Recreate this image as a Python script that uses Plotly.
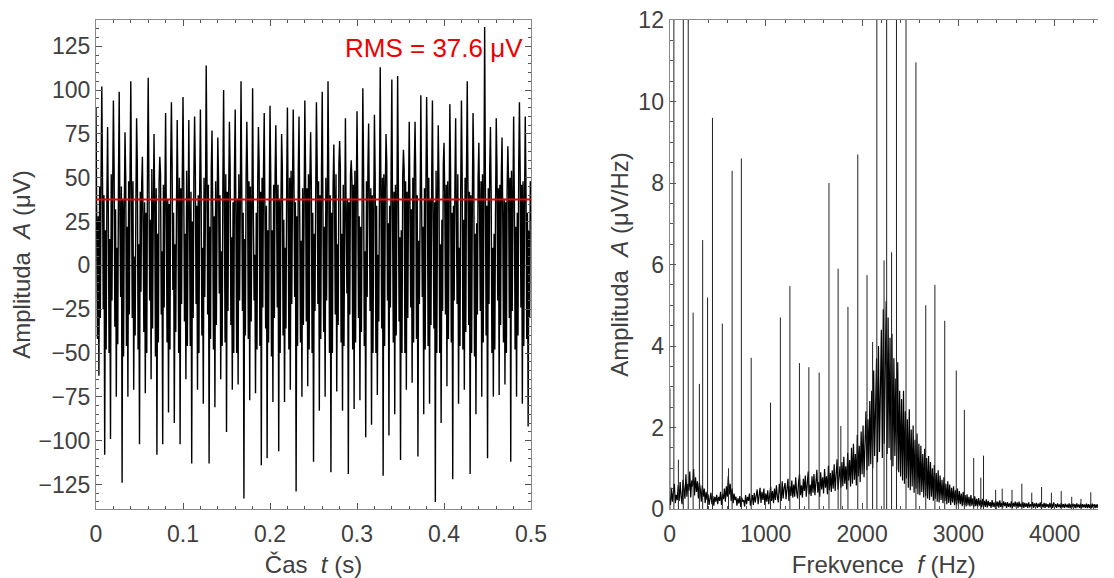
import numpy as np
import plotly.graph_objects as go

# ---------------- data: time signal (uV), 8 samples per beat ----------------
sample_rate_hz = 1200
signal_uV = [
    90, 35, -42, 28, -63, 45, -30, 52,
    102, 48, -25, 40, -108, 20, -48, 38,
    79, 30, -50, 15, -99, 52, -20, 44,
    94, 55, -35, 32, -75, 10, -45, 50,
    99, 25, -18, 45, -124, 38, -52, 30,
    76, 50, -46, 22, -75, 48, -28, 56,
    105, 40, -30, 48, -71, 5, -40, 35,
    84, 58, -48, 12, -102, 42, -15, 46,
    62, 22, -38, 36, -73, 30, -50, 54,
    107, 46, -20, 26, -65, 55, -36, 28,
    75, 34, -52, 44, -108, 18, -44, 48,
    62, 52, -28, 8, -102, 46, -24, 40,
    87, 28, -44, 38, -84, 35, -48, 58,
    93, 56, -14, 30, -90, 12, -38, 32,
    83, 38, -50, 50, -102, 44, -22, 50,
    96, 48, -32, 18, -65, 54, -46, 26,
    83, 26, -46, 42, -113, 25, -30, 52,
    85, 54, -22, 34, -71, 40, -50, 44,
    89, 42, -40, 10, -79, 50, -18, 36,
    114, 58, -28, 46, -113, 22, -42, 55,
    77, 30, -48, 28, -81, 48, -34, 30,
    73, 50, -16, 40, -65, 8, -46, 48,
    100, 36, -44, 52, -95, 42, -26, 42,
    82, 55, -34, 16, -71, 36, -50, 56,
    89, 24, -50, 38, -68, 52, -20, 34,
    105, 46, -26, 30, -133, 15, -40, 50,
    82, 52, -42, 48, -77, 45, -32, 28,
    101, 34, -20, 6, -73, 30, -48, 46,
    79, 58, -46, 42, -114, 50, -24, 54,
    87, 28, -36, 34, -110, 20, -44, 38,
    91, 50, -52, 20, -78, 46, -30, 52,
    80, 40, -24, 46, -106, 38, -50, 32,
    75, 56, -40, 26, -78, 10, -36, 48,
    90, 32, -48, 50, -71, 54, -22, 44,
    89, 48, -18, 36, -129, 28, -46, 56,
    85, 26, -44, 14, -75, 44, -34, 30,
    94, 54, -32, 44, -69, 52, -48, 50,
    76, 44, -50, 30, -112, 18, -26, 40,
    93, 58, -22, 48, -83, 40, -42, 54,
    99, 30, -38, 22, -75, 50, -20, 34,
    105, 50, -50, 40, -118, 30, -50, 46,
    69, 36, -28, 52, -72, 12, -34, 58,
    71, 55, -44, 18, -83, 46, -46, 28,
    84, 24, -16, 38, -119, 36, -28, 52,
    60, 48, -48, 46, -82, 54, -44, 42,
    88, 40, -30, 28, -77, 22, -38, 36,
    101, 56, -46, 8, -98, 48, -18, 56,
    81, 32, -26, 44, -91, 40, -50, 30,
    86, 52, -50, 34, -74, 6, -32, 48,
    113, 38, -36, 50, -120, 52, -46, 44,
    75, 58, -20, 24, -97, 34, -24, 54,
    106, 28, -44, 42, -85, 46, -40, 32,
    108, 46, -32, 16, -111, 20, -50, 50,
    66, 54, -50, 48, -71, 42, -30, 38,
    82, 34, -24, 32, -67, 50, -44, 56,
    82, 50, -42, 40, -109, 14, -22, 28,
    97, 42, -18, 22, -85, 44, -48, 46,
    96, 56, -46, 50, -79, 38, -34, 52,
    94, 26, -36, 36, -135, 54, -50, 36,
    80, 48, -50, 12, -90, 26, -26, 58,
    70, 38, -28, 46, -69, 48, -42, 30,
    92, 55, -44, 30, -122, 34, -20, 48,
    84, 30, -22, 52, -79, 10, -46, 44,
    94, 52, -48, 26, -71, 50, -38, 54,
    105, 44, -34, 42, -119, 40, -50, 34,
    87, 58, -52, 18, -85, 24, -28, 50,
    70, 32, -26, 48, -75, 52, -44, 40,
    136, 50, -40, 34, -110, 44, -22, 56,
    79, 40, -50, 10, -75, 18, -48, 30,
    84, 56, -20, 44, -74, 46, -34, 52,
    73, 26, -44, 38, -68, 36, -50, 44,
    68, 48, -30, 50, -112, 54, -26, 36,
    85, 36, -48, 22, -75, 30, -40, 58,
    93, 54, -24, 46, -79, 48, -46, 32,
    85, 44, -42, 30, -92, 20, -30, 48,
    25,
]
rms_uV = 37.6

# ---------------- data: spectrum (uV/Hz), one value every 10 Hz ----------------
freq_step_hz = 10
spectrum_floor = [
    0.28, 0.10, 0.52, 0.18, 0.40, 0.62, 0.14, 0.35, 0.22, 0.58,
    0.20, 0.66, 0.31, 0.12, 0.72, 0.40, 0.25, 0.85, 0.30, 0.62,
    0.45, 0.92, 0.28, 0.70, 0.55, 0.98, 0.33, 0.78, 0.42, 0.68,
    0.26, 0.64, 0.48, 0.18, 0.58, 0.30, 0.50, 0.15, 0.42, 0.22,
    0.36, 0.10, 0.28, 0.40, 0.12, 0.32, 0.08, 0.30, 0.18, 0.35,
    0.12, 0.30, 0.20, 0.42, 0.10, 0.36, 0.24, 0.50, 0.18, 0.56,
    0.30, 0.80, 0.36, 0.62, 0.20, 0.50, 0.14, 0.38, 0.22, 0.30,
    0.08, 0.26, 0.14, 0.32, 0.05, 0.28, 0.18, 0.22, 0.06, 0.34,
    0.12, 0.30, 0.20, 0.38, 0.08, 0.26, 0.34, 0.10, 0.40, 0.16,
    0.28, 0.48, 0.12, 0.36, 0.52, 0.15, 0.42, 0.22, 0.50, 0.10,
    0.38, 0.18, 0.46, 0.12, 0.30, 0.55, 0.20, 0.44, 0.14, 0.50,
    0.22, 0.58, 0.30, 0.16, 0.62, 0.35, 0.20, 0.68, 0.26, 0.52,
    0.64, 0.24, 0.45, 0.74, 0.20, 0.56, 0.32, 0.70, 0.28, 0.60,
    0.30, 0.78, 0.42, 0.26, 0.66, 0.86, 0.34, 0.58, 0.28, 0.74,
    0.44, 0.82, 0.30, 0.68, 0.92, 0.36, 0.60, 0.32, 0.80, 0.40,
    0.86, 0.34, 0.72, 0.96, 0.40, 0.66, 0.30, 0.90, 0.48, 0.78,
    0.38, 0.98, 0.52, 0.80, 0.36, 1.06, 0.46, 0.88, 0.42, 0.95,
    0.50, 1.10, 0.44, 0.92, 1.22, 0.48, 0.86, 1.05, 0.52, 1.15,
    0.56, 1.28, 0.62, 1.05, 0.48, 1.38, 0.70, 1.20, 0.55, 1.50,
    0.62, 1.60, 0.72, 1.35, 0.58, 1.82, 0.80, 1.55, 0.66, 1.90,
    0.85, 2.05, 0.78, 1.80, 2.40, 0.95, 2.20, 1.05, 2.65, 1.10,
    2.90, 1.00, 3.40, 1.30, 2.80, 3.70, 1.15, 4.00, 1.40, 3.60,
    4.40, 1.25, 4.90, 1.60, 3.90, 5.10, 1.35, 4.70, 1.50, 4.20,
    1.20, 4.30, 1.05, 3.70, 1.30, 3.20, 0.95, 3.60, 0.90, 2.90,
    0.80, 2.70, 0.70, 2.90, 0.62, 2.40, 0.75, 2.20, 0.52, 2.45,
    0.46, 1.95, 0.55, 2.05, 0.40, 1.70, 0.50, 1.85, 0.36, 1.60,
    0.34, 1.55, 0.42, 1.35, 0.28, 1.48, 0.32, 1.25, 0.26, 1.30,
    0.22, 1.15, 0.30, 1.00, 0.20, 1.08, 0.25, 0.88, 0.18, 0.95,
    0.16, 0.82, 0.22, 0.72, 0.14, 0.78, 0.20, 0.62, 0.12, 0.68,
    0.15, 0.60, 0.10, 0.52, 0.16, 0.56, 0.09, 0.46, 0.12, 0.50,
    0.08, 0.44, 0.12, 0.38, 0.07, 0.42, 0.10, 0.34, 0.06, 0.36,
    0.09, 0.30, 0.06, 0.34, 0.08, 0.26, 0.05, 0.31, 0.07, 0.25,
    0.05, 0.27, 0.08, 0.22, 0.04, 0.25, 0.06, 0.20, 0.05, 0.24,
    0.04, 0.20, 0.07, 0.17, 0.03, 0.22, 0.05, 0.16, 0.04, 0.19,
    0.06, 0.18, 0.03, 0.21, 0.05, 0.15, 0.04, 0.19, 0.07, 0.16,
    0.03, 0.17, 0.05, 0.14, 0.04, 0.19, 0.03, 0.15, 0.06, 0.18,
    0.04, 0.16, 0.03, 0.18, 0.05, 0.13, 0.04, 0.17, 0.03, 0.15,
    0.05, 0.14, 0.03, 0.16, 0.04, 0.12, 0.06, 0.17, 0.03, 0.14,
    0.04, 0.15, 0.03, 0.13, 0.05, 0.16, 0.03, 0.12, 0.04, 0.15,
    0.03, 0.14, 0.05, 0.12, 0.03, 0.15, 0.04, 0.13, 0.03, 0.16,
    0.04, 0.12, 0.03, 0.14, 0.05, 0.11, 0.03, 0.15, 0.04, 0.12,
    0.03, 0.13, 0.04, 0.11, 0.03, 0.14, 0.02, 0.12, 0.04, 0.13,
    0.03, 0.12, 0.02, 0.14, 0.04, 0.11, 0.03, 0.13, 0.02, 0.12,
    0.04, 0.11, 0.03, 0.13, 0.02, 0.12, 0.03, 0.11, 0.02, 0.13,
    0.03, 0.12, 0.02, 0.11, 0.03, 0.12,
]
peak_freq_hz = [4, 45, 92, 143, 194, 245, 310, 344, 395, 446, 548, 613, 650,
                746, 848, 1049, 1151, 1250, 1349, 1447, 1554, 1656, 1751, 1779,
                1853, 1955, 2051, 2109, 2153, 2228, 2255, 2306, 2357, 2456,
                2559, 2661, 2756, 2858, 2978, 3062, 3159, 3233, 3261, 3387,
                3455, 3557, 3659, 3762, 3864, 3966, 4068, 4177, 4273, 4375]
peak_amp = [2.96, 30.0, 1.21, 20.0, 16.0, 4.82, 3.07, 6.6, 5.19, 9.6, 4.55, 1.0, 8.3,
            8.6, 3.71, 2.61, 4.70, 5.47, 3.58, 3.48, 3.35, 8.0, 5.9, 2.04,
            4.96, 8.70, 5.74, 4.1, 25.0, 6.1, 40.0, 6.3, 20.0, 14.0,
            10.96, 5.0, 5.5, 4.62, 3.40, 2.43, 1.25, 0.77, 1.31, 0.47,
            0.5, 0.47, 0.62, 0.4, 0.54, 0.4, 0.44, 0.3, 0.25, 0.41]

# ---------------- build figure ----------------
t = np.arange(len(signal_uV)) / sample_rate_hz
f = np.arange(len(spectrum_floor)) * freq_step_hz

peak_x, peak_y = [], []
for fx, ay in zip(peak_freq_hz, peak_amp):
    peak_x += [fx, fx, None]
    peak_y += [0, ay, None]

FONT = "Liberation Sans, Arial, Helvetica, sans-serif"
TXT = "#404040"
AX = "#8a8a8a"
TICKC = "#555555"

fig = go.Figure()
fig.add_trace(go.Scatter(x=t, y=signal_uV, mode="lines",
                         line=dict(color="black", width=1.4),
                         xaxis="x", yaxis="y", showlegend=False, hoverinfo="skip"))
fig.add_trace(go.Scatter(x=[0, 0.5], y=[rms_uV, rms_uV], mode="lines",
                         line=dict(color="#ee0000", width=2),
                         xaxis="x", yaxis="y", showlegend=False))
fig.add_trace(go.Scatter(x=f, y=spectrum_floor, mode="lines",
                         line=dict(color="black", width=1.2),
                         xaxis="x2", yaxis="y2", showlegend=False, hoverinfo="skip"))
fig.add_trace(go.Scatter(x=peak_x, y=peak_y, mode="lines",
                         line=dict(color="#222222", width=1),
                         xaxis="x2", yaxis="y2", showlegend=False, hoverinfo="skip"))

W, H = 1114, 578
ml, mt, mb = 96, 20, 69
pw = W - ml
left_dom = [0, (538 - ml) / pw]
right_dom = [(678.7 - ml) / pw, 1]

common = dict(showgrid=False, showline=True, linecolor=AX, linewidth=1,
              ticks="inside", tickcolor=TICKC, ticklen=6, tickwidth=1,
              tickfont=dict(family=FONT, size=23, color=TXT),
              title_font=dict(family=FONT, size=24, color=TXT))

fig.update_layout(
    width=W, height=H, margin=dict(l=ml, r=0, t=mt, b=mb),
    paper_bgcolor="white", plot_bgcolor="white",
    font=dict(family=FONT, color=TXT),
    xaxis=dict(domain=left_dom, anchor="y", range=[0, 0.5], dtick=0.1,
               mirror="ticks", zeroline=False, ticklabelstandoff=4,
               minor=dict(ticks="inside", dtick=0.02, ticklen=3, tickcolor=TICKC),
               title=dict(text="Čas\u00a0 <i>t</i> (s)", standoff=11), **common),
    yaxis=dict(domain=[0, 1], anchor="x", range=[-139, 140], tickvals=list(range(-125, 126, 25)),
               mirror="ticks", zeroline=True, zerolinecolor="#222222", zerolinewidth=1,
               minor=dict(ticks="inside", dtick=5, ticklen=3, tickcolor=TICKC),
               title=dict(text="Amplituda\u00a0 <i>A</i> (μV)", standoff=1), **common),
    xaxis2=dict(domain=right_dom, anchor="y2", range=[0, 4450], dtick=1000,
                mirror="ticks", zeroline=False, ticklabelstandoff=4,
                minor=dict(ticks="inside", dtick=200, ticklen=3, tickcolor=TICKC),
                title=dict(text="Frekvence\u00a0 <i>f</i> (Hz)", standoff=11), **common),
    yaxis2=dict(domain=[0, 1], anchor="x2", range=[0, 12], dtick=2,
                mirror=False, zeroline=False,
                minor=dict(ticks="inside", dtick=0.5, ticklen=3, tickcolor=TICKC),
                title=dict(text="Amplituda\u00a0 <i>A</i> (μV/Hz)", standoff=2), **common),
    annotations=[dict(x=0.493, y=124, xref="x", yref="y", text="RMS = 37.6 μV",
                      showarrow=False, xanchor="right", yanchor="middle",
                      font=dict(family=FONT, size=26, color="#ee0000"))],
)

fig.write_html("out.html")
